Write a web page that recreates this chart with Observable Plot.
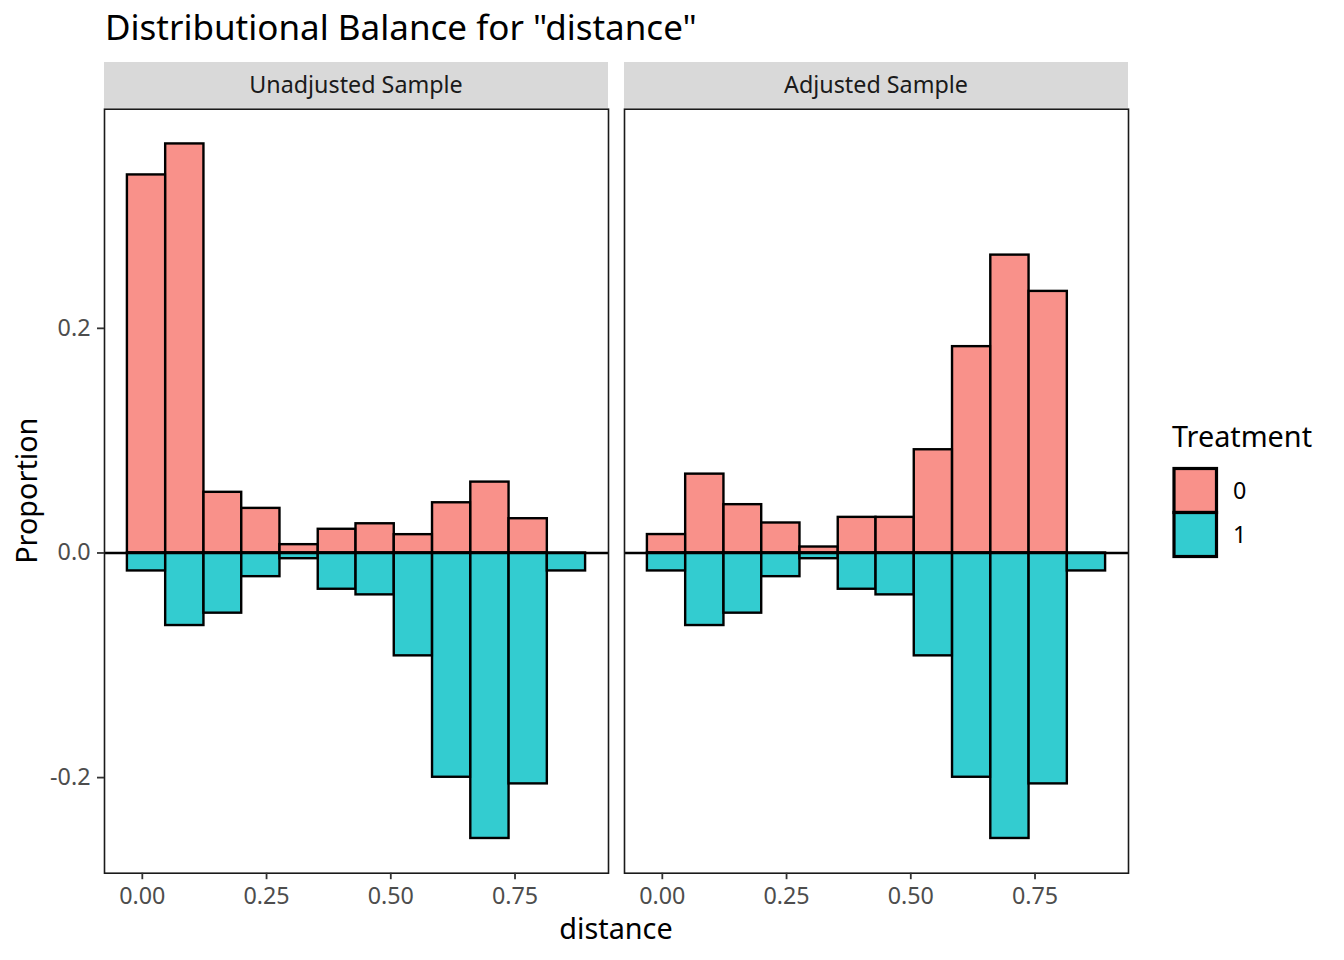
<!DOCTYPE html>
<html>
<head>
<meta charset="utf-8">
<script src="https://cdn.jsdelivr.net/npm/d3@7"></script>
<script src="https://cdn.jsdelivr.net/npm/@observablehq/plot@0.6"></script>
<style>
  html, body { margin: 0; padding: 0; background: white; }
  #chart { width: 1344px; height: 960px; position: relative; }
  svg { font-family: "Noto Sans", sans-serif; }
</style>
</head>
<body>
<div id="chart"></div>
<script>
// ---- data ----
const panels = ["Unadjusted Sample", "Adjusted Sample"];
const treatments = ["0", "1"];
const binEdges = [-0.030, 0.047, 0.124, 0.200, 0.277, 0.354, 0.430, 0.507, 0.584, 0.661, 0.738, 0.815, 0.892];
const unadjusted0 = [0.3366, 0.3642, 0.0540, 0.0397, 0.0074, 0.0211, 0.0260, 0.0163, 0.0447, 0.0631, 0.0305, 0];
const adjusted0   = [0.0164, 0.0702, 0.0430, 0.0267, 0.0053, 0.0317, 0.0317, 0.0919, 0.1837, 0.2652, 0.2329, 0];
const treated1    = [0.0160, 0.0646, 0.0536, 0.0211, 0.0051, 0.0323, 0.0373, 0.0916, 0.1997, 0.2542, 0.2056, 0.0160];
const xTicks = [0, 0.25, 0.5, 0.75];
const yTicks = [-0.2, 0, 0.2];
const treatColors = ["#F8766D", "#00BFC4"];
const titleText = 'Distributional Balance for "distance"';
const xLabel = "distance";
const yLabel = "Proportion";
const legendTitle = "Treatment";

// ---- build table ----
const rows = [];
panels.forEach((p, pi) => {
  const top = pi === 0 ? unadjusted0 : adjusted0;
  top.forEach((v, i) => { if (v > 0) rows.push({panel: p, treat: "0", x1: binEdges[i], x2: binEdges[i + 1], y: v}); });
  treated1.forEach((v, i) => { if (v > 0) rows.push({panel: p, treat: "1", x1: binEdges[i], x2: binEdges[i + 1], y: -v}); });
});

// ggplot-like 5% expansion
function expand([a, b]) { const d = (b - a) * 0.05; return [a - d, b + d]; }
const xDomain = expand(d3.extent(binEdges));
const yDomain = expand(d3.extent(rows, d => d.y));

const W = 1344, H = 960;
const mL = 104, mR = 216, mT = 108.7, mB = 87.3;
const gap = 16;
const pInner = (2 * gap) / ((W - mL - mR) + gap);
const small = 23.3;

const chart = Plot.plot({
  width: W, height: H,
  marginLeft: mL, marginRight: mR, marginTop: mT, marginBottom: mB,
  style: {fontFamily: "Noto Sans", background: "white", overflow: "visible"},
  fx: {domain: panels, paddingInner: pInner, paddingOuter: 0, round: false, axis: null, label: null},
  x: {domain: xDomain, label: null, axis: null},
  y: {domain: yDomain, label: null, axis: null},
  color: {domain: treatments, range: treatColors},
  marks: [
    Plot.rect(rows, {fx: "panel", x1: "x1", x2: "x2", y1: 0, y2: "y", fill: "treat", fillOpacity: 0.8, stroke: "black", strokeWidth: 2.4}),
    Plot.ruleY([0], {stroke: "black", strokeWidth: 2.4}),
    Plot.frame({stroke: "#1A1A1A", strokeWidth: 1.6}),
    Plot.axisX(xTicks, {tickFormat: d => d.toFixed(2), tickSize: 6.5, tickPadding: 7.5, fontSize: small, stroke: "#333333", strokeWidth: 1.8, fill: "#4D4D4D", label: null}),
    Plot.axisY(yTicks, {tickFormat: d => d.toFixed(1), tickSize: 7, tickPadding: 7, fontSize: small, stroke: "#333333", strokeWidth: 1.8, fill: "#4D4D4D", label: null})
  ]
});

document.getElementById("chart").appendChild(chart);

// ---- strips, titles and legend ----
const svg = d3.select(chart);
const fx = chart.scale("fx");
const color = chart.scale("color");
panels.forEach(p => {
  const x0 = fx.apply(p), bw = fx.bandwidth;
  svg.append("rect").attr("x", x0).attr("y", 62).attr("width", bw).attr("height", mT - 62 - 0.8).attr("fill", "#D9D9D9");
  svg.append("text").attr("x", x0 + bw / 2).attr("y", 93).attr("text-anchor", "middle")
    .attr("font-size", small).attr("fill", "#1A1A1A").text(p);
});
svg.append("text").attr("x", 105).attr("y", 40).attr("text-anchor", "start").attr("font-size", 35).attr("fill", "black").text(titleText);
svg.append("text").attr("x", mL + (W - mL - mR) / 2).attr("y", 939).attr("text-anchor", "middle")
  .attr("font-size", 28.8).attr("fill", "black").text(xLabel);
svg.append("text").attr("transform", `translate(37,${mT + (H - mT - mB) / 2}) rotate(-90)`).attr("text-anchor", "middle")
  .attr("font-size", 28.8).attr("fill", "black").text(yLabel);
// legend
svg.append("text").attr("x", 1172).attr("y", 447).attr("text-anchor", "start").attr("font-size", 28.8).attr("fill", "black").text(legendTitle);
const keyY = [468.5, 512.5];
treatments.forEach((t, i) => {
  svg.append("rect").attr("x", 1174).attr("y", keyY[i]).attr("width", 42.5).attr("height", 44)
    .attr("fill", color.apply(t)).attr("fill-opacity", 0.8).attr("stroke", "black").attr("stroke-width", 3.2);
  svg.append("text").attr("x", 1233).attr("y", keyY[i] + 30).attr("text-anchor", "start").attr("font-size", small).attr("fill", "black").text(t);
});
</script>
</body>
</html>
